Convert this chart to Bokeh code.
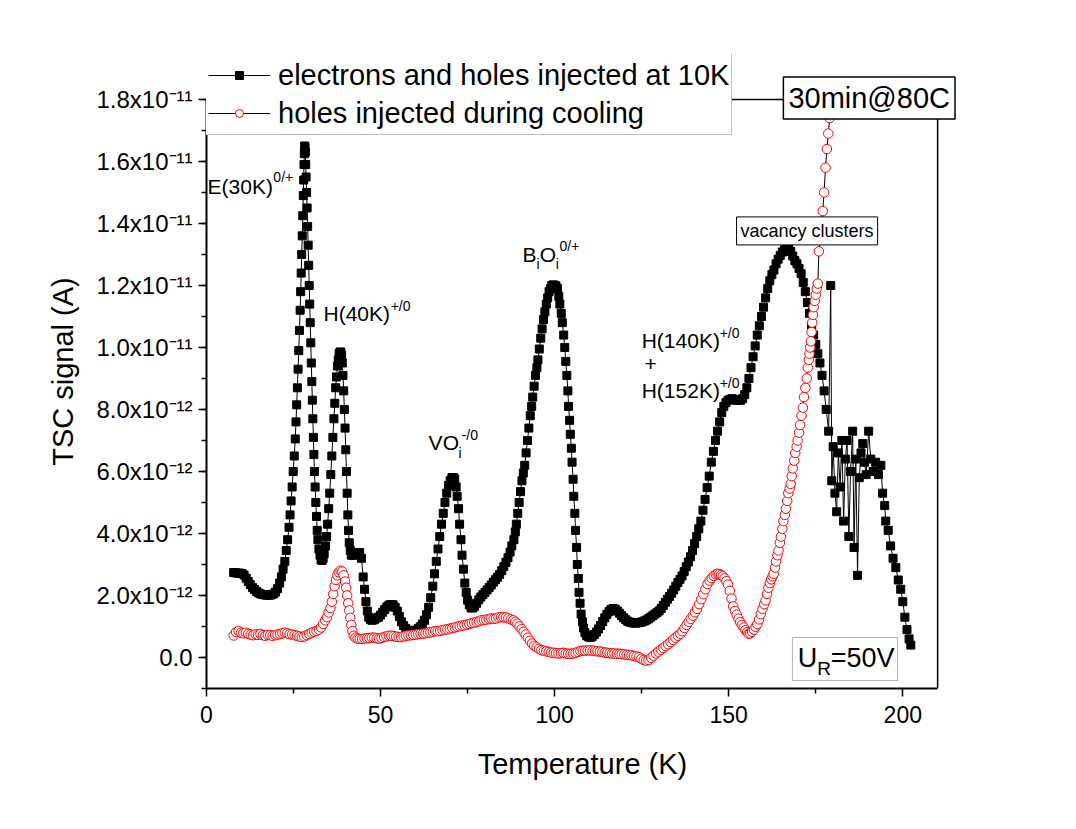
from bokeh.plotting import figure
from bokeh.models import (Label, Legend, LegendItem, FixedTicker,
                          CustomJSTickFormatter, BoxAnnotation)
from bokeh.embed import file_html
from bokeh.resources import INLINE

# ---------------- data (temperature in K, signal in units of 1e-12 A) -------------
T_eh = [7.8, 8.4, 9.0, 9.6, 10.2, 10.8, 11.4, 12.0, 12.6, 13.2, 13.8, 14.4, 15.0, 15.6,
        16.2, 16.8, 17.4, 18.0, 18.6, 19.2, 19.8, 20.4, 21.0, 21.5, 22.0, 22.5, 22.9, 23.3,
        23.7, 24.0, 24.3, 24.6, 24.9, 25.2, 25.5, 25.7, 25.9, 26.1, 26.3, 26.5, 26.7, 26.9,
        27.05, 27.2, 27.35, 27.5, 27.65, 27.8, 27.9, 28.0, 28.1, 28.2, 28.3, 28.4, 28.5, 28.6,
        28.75, 28.9, 29.05, 29.2, 29.35, 29.5, 29.65, 29.8, 29.95, 30.1, 30.25, 30.4, 30.55,
        30.7, 30.85, 31.0, 31.2, 31.4, 31.6, 31.8, 32.0, 32.3, 32.6, 32.9, 33.2, 33.5, 33.8,
        34.2, 34.5, 34.8, 35.1, 35.4, 35.7, 36.0, 36.3, 36.6, 36.85, 37.1, 37.35, 37.6, 37.85,
        38.1, 38.35, 38.6, 38.8, 39.0, 39.2, 39.4, 39.6, 39.8, 40.0, 40.2, 40.4, 40.6, 40.8,
        41.0, 41.3, 41.6, 42.2, 42.8, 43.4, 44.0, 44.5, 45.0, 45.4, 45.8, 46.2, 46.6, 47.1,
        47.6, 48.2, 48.8, 49.4, 50.0, 50.6, 51.2, 51.8, 52.4, 53.0, 53.6, 54.2, 54.8, 55.4,
        56.0, 56.6, 57.2, 57.8, 58.4, 59.0, 59.6, 60.2, 60.8, 61.4, 62.0, 62.6, 63.2, 63.8,
        64.4, 65.0, 65.5, 66.0, 66.5, 67.0, 67.5, 68.0, 68.5, 69.0, 69.5, 70.0, 70.5, 71.0,
        71.3, 71.7, 72.0, 72.4, 72.7, 73.1, 73.4, 73.8, 74.2, 74.6, 75.0, 75.5, 76.0, 76.5,
        77.0, 77.6, 78.2, 78.8, 79.4, 80.0, 80.6, 81.2, 81.8, 82.4, 83.0, 83.6, 84.2, 84.8,
        85.4, 86.0, 86.6, 87.2, 87.7, 88.3, 88.7, 89.0, 89.4, 89.8, 90.2, 90.6, 91.0, 91.4,
        91.8, 92.2, 92.6, 93.0, 93.4, 93.7, 94.1, 94.5, 94.9, 95.2, 95.6, 96.0, 96.4, 96.8,
        97.2, 97.6, 98.0, 98.4, 98.8, 99.2, 99.6, 100.0, 100.4, 100.8, 101.2, 101.5, 101.9,
        102.2, 102.6, 102.9, 103.2, 103.5, 103.8, 104.0, 104.3, 104.5, 104.8, 105.0, 105.3,
        105.5, 105.8, 106.0, 106.3, 106.5, 106.8, 107.0, 107.3, 107.6, 108.0, 108.3, 108.7,
        109.2, 109.8, 110.3, 110.8, 111.4, 112.0, 112.6, 113.2, 113.8, 114.4, 115.0, 115.6,
        116.2, 116.8, 117.4, 118.0, 118.6, 119.2, 119.8, 120.4, 121.0, 121.6, 122.2, 122.8,
        123.4, 124.0, 124.6, 125.2, 125.8, 126.4, 127.0, 127.6, 128.2, 128.8, 129.4, 130.0,
        130.6, 131.2, 131.8, 132.4, 133.0, 133.6, 134.2, 134.8, 135.4, 136.0, 136.6, 137.2,
        137.8, 138.4, 139.0, 139.6, 140.2, 140.8, 141.4, 142.0, 142.6, 143.2, 143.8, 144.4,
        145.0, 145.6, 146.2, 146.8, 147.4, 148.0, 148.6, 149.2, 149.8, 150.4, 151.0, 151.6,
        152.2, 152.8, 153.4, 154.0, 154.6, 155.2, 155.8, 156.4, 157.0, 157.6, 158.2, 158.8,
        159.4, 160.0, 160.6, 161.2, 161.8, 162.4, 163.0, 163.6, 164.2, 164.8, 165.4, 166.0,
        166.6, 167.2, 167.8, 168.4, 169.0, 169.6, 170.2, 170.8, 171.4, 172.0, 172.6, 173.2,
        173.8, 174.4, 175.0, 175.6, 176.2, 176.8, 177.4, 178.0, 178.7, 179.3, 179.6, 180.0,
        180.5, 181.0, 181.5, 182.0, 182.5, 183.0, 183.5, 184.0, 184.5, 185.0, 185.6, 186.0,
        186.5, 187.0, 187.5, 188.0, 188.5, 189.0, 189.5, 190.2, 190.8, 191.5, 192.2, 193.0,
        193.7, 194.2, 194.8, 195.1, 195.8, 196.5, 197.2, 198.0, 198.7, 199.4, 200.0, 200.6,
        201.2, 201.8, 202.3]
S_eh = [2.74, 2.73, 2.72, 2.72, 2.71, 2.66, 2.56, 2.45, 2.35, 2.26, 2.19, 2.13, 2.08, 2.05,
        2.03, 2.02, 2.01, 2.01, 2.02, 2.05, 2.11, 2.22, 2.4, 2.6, 2.85, 3.1, 3.45, 3.8,
        4.2, 4.6, 5.05, 5.5, 6.0, 6.5, 7.05, 7.6, 8.15, 8.7, 9.3, 9.9, 10.55, 11.2,
        11.8, 12.4, 13.0, 13.6, 14.25, 14.9, 15.4, 15.9, 16.25, 16.5, 16.45, 16.3, 15.9, 15.5,
        15.0, 14.5, 13.9, 13.3, 12.65, 12.0, 11.4, 10.8, 10.15, 9.5, 8.9, 8.3, 7.7,
        7.1, 6.55, 6.0, 5.5, 5.0, 4.55, 4.1, 3.8, 3.5, 3.3, 3.15, 3.13, 3.2, 3.35,
        3.6, 3.9, 4.3, 4.8, 5.3, 5.9, 6.5, 7.1, 7.7, 8.2, 8.7, 9.05, 9.4, 9.6,
        9.8, 9.85, 9.85, 9.75, 9.5, 9.1, 8.6, 8.0, 7.4, 6.7, 6.0, 5.3, 4.6, 4.1,
        3.7, 3.45, 3.3, 3.3, 3.32, 3.38, 3.38, 3.2, 2.6, 2.2, 1.8, 1.5, 1.3, 1.22,
        1.2, 1.22, 1.27, 1.3, 1.37, 1.46, 1.55, 1.63, 1.69, 1.71, 1.7, 1.62, 1.5, 1.32,
        1.15, 1.03, 0.94, 0.88, 0.85, 0.84, 0.85, 0.88, 0.93, 0.99, 1.08, 1.2, 1.38, 1.62,
        1.93, 2.3, 2.7, 3.1, 3.5, 3.9, 4.3, 4.65, 5.0, 5.3, 5.55, 5.7, 5.8, 5.8,
        5.75, 5.5, 5.2, 4.8, 4.3, 3.8, 3.3, 2.85, 2.4, 2.1, 1.85, 1.7, 1.6, 1.6,
        1.65, 1.75, 1.86, 1.95, 2.03, 2.1, 2.18, 2.26, 2.34, 2.43, 2.51, 2.59, 2.68, 2.8,
        2.93, 3.07, 3.22, 3.4, 3.6, 3.8, 4.05, 4.3, 4.65, 5.0, 5.35, 5.7, 5.95, 6.2,
        6.6, 7.0, 7.4, 7.8, 8.1, 8.4, 8.75, 9.1, 9.35, 9.6, 9.95, 10.3, 10.6, 10.9,
        11.15, 11.4, 11.6, 11.8, 11.9, 12.0, 12.02, 12.0, 11.98, 11.9, 11.65, 11.4, 11.1,
        10.8, 10.4, 10.0, 9.55, 9.1, 8.6, 8.1, 7.65, 7.2, 6.75, 6.3, 5.75,
        5.2, 4.65, 4.1, 3.55, 3.0, 2.55, 2.1, 1.75, 1.4, 1.15, 0.95, 0.8,
        0.7, 0.66, 0.65, 0.68, 0.74, 0.82, 0.92, 1.03, 1.16, 1.28, 1.39, 1.48,
        1.55, 1.58, 1.56, 1.5, 1.43, 1.35, 1.28, 1.22, 1.17, 1.14, 1.12, 1.11,
        1.11, 1.12, 1.13, 1.15, 1.18, 1.21, 1.25, 1.3, 1.35, 1.4, 1.45, 1.5,
        1.58, 1.68, 1.78, 1.88, 1.97, 2.07, 2.18, 2.3, 2.42, 2.52, 2.63, 2.77,
        2.93, 3.08, 3.25, 3.45, 3.67, 3.9, 4.15, 4.4, 4.75, 5.1, 5.48, 5.85,
        6.3, 6.65, 7.0, 7.3, 7.6, 7.9, 8.1, 8.22, 8.3, 8.33, 8.35, 8.32,
        8.3, 8.3, 8.3, 8.35, 8.48, 8.7, 9.0, 9.35, 9.7, 10.05, 10.4, 10.7,
        11.0, 11.3, 11.6, 11.9, 12.15, 12.35, 12.5, 12.7, 12.85, 12.97, 13.08, 13.15,
        13.2, 13.2, 13.1, 12.95, 12.8, 12.7, 12.55, 12.38, 12.1, 11.8, 11.45, 11.1,
        10.7, 10.4, 10.1, 9.8, 9.5, 9.1, 8.6, 8.0, 7.3, 12.0, 5.7, 6.8,
        5.3, 4.7, 6.6, 5.5, 7.0, 4.4, 6.4, 7.0, 3.9, 6.0, 7.3, 3.55,
        6.4, 2.65, 5.8, 6.6, 6.9, 6.3, 5.9, 7.3, 6.4, 6.0, 6.3, 5.9,
        6.2, 5.3, 4.9, 4.4, 4.1, 3.6, 3.2, 2.9, 2.5, 2.2, 1.8, 1.3,
        0.9, 0.6, 0.4]

T_h = [7.8, 8.5, 9.2, 9.9, 10.6, 11.3, 12.0, 12.7, 13.4, 14.1, 14.8, 15.5, 16.2, 16.9,
       17.6, 18.3, 19.0, 19.7, 20.4, 21.1, 21.8, 22.5, 23.2, 23.9, 24.6, 25.3, 26.0, 26.7,
       27.4, 28.1, 28.8, 29.5, 30.2, 30.9, 31.6, 32.3, 32.9, 33.5, 34.1, 34.6, 35.1, 35.6,
       36.0, 36.4, 36.8, 37.2, 37.6, 38.0, 38.5, 39.0, 39.4, 39.8, 40.1, 40.4, 40.7, 41.0,
       41.3, 41.6, 41.9, 42.3, 42.8, 43.4, 44.0, 44.7, 45.4, 46.1, 46.8, 47.5, 48.2, 48.9,
       49.6, 50.3, 51.0, 51.7, 52.4, 53.1, 53.8, 54.5, 55.2, 55.9, 56.6, 57.3, 58.0, 58.7,
       59.4, 60.1, 60.8, 61.5, 62.2, 62.9, 63.6, 64.3, 65.0, 65.7, 66.4, 67.1, 67.8, 68.5,
       69.2, 69.9, 70.6, 71.3, 72.0, 72.7, 73.4, 74.1, 74.8, 75.5, 76.2, 76.9, 77.6, 78.3,
       79.0, 79.7, 80.4, 81.1, 81.8, 82.5, 83.2, 83.9, 84.6, 85.3, 86.0, 86.7, 87.4, 88.1,
       88.7, 89.3, 89.9, 90.5, 91.1, 91.7, 92.3, 92.9, 93.5, 94.1, 94.8, 95.5, 96.2, 96.9,
       97.6, 98.3, 99.0, 99.7, 100.4, 101.1, 101.8, 102.5, 103.2, 103.9, 104.6, 105.3, 106.0,
       106.7, 107.4, 108.1, 108.8, 109.5, 110.2, 110.9, 111.6, 112.3, 113.0, 113.7, 114.4,
       115.1, 115.8, 116.5, 117.2, 117.9, 118.6, 119.3, 120.0, 120.7, 121.4, 122.1, 122.8,
       123.5, 124.2, 124.9, 125.6, 126.3, 127.0, 127.7, 128.4, 129.1, 129.8, 130.5, 131.2,
       131.9, 132.6, 133.3, 134.0, 134.7, 135.4, 136.1, 136.7, 137.3, 137.9, 138.5, 139.1,
       139.7, 140.3, 140.9, 141.5, 142.1, 142.7, 143.3, 143.9, 144.5, 145.1, 145.7, 146.3,
       146.8, 147.3, 147.8, 148.3, 148.8, 149.3, 149.8, 150.3, 150.8, 151.3, 151.8, 152.3,
       152.8, 153.3, 153.8, 154.3, 154.8, 155.3, 155.7, 156.2, 156.7, 157.2, 157.7, 158.2,
       158.7, 159.2, 159.7, 160.2, 160.6, 161.0, 161.4, 161.8, 162.2, 162.6, 162.9, 163.3,
       163.6, 164.0, 164.3, 164.7, 165.0, 165.4, 165.7, 166.1, 166.4, 166.8, 167.1, 167.5,
       167.8, 168.1, 168.4, 168.8, 169.1, 169.5, 169.8, 170.2, 170.5, 170.9, 171.3, 171.6,
       172.0, 172.4, 172.7, 173.0, 173.2, 173.4, 173.6, 173.8, 174.0, 174.2, 174.4, 174.7,
       175.0, 175.3, 175.6, 175.9, 176.3, 176.6, 177.0, 177.4, 177.8, 178.2, 178.6, 179.0,
       179.5]
S_h = [0.71, 0.82, 0.86, 0.8, 0.78, 0.8, 0.76, 0.74, 0.72, 0.75, 0.73, 0.76, 0.72, 0.7,
       0.73, 0.72, 0.7, 0.72, 0.74, 0.76, 0.78, 0.8, 0.78, 0.75, 0.74, 0.72, 0.7, 0.68,
       0.66, 0.68, 0.72, 0.76, 0.8, 0.83, 0.86, 0.9, 0.97, 1.08, 1.2, 1.3, 1.45, 1.6,
       1.8, 2.05, 2.3, 2.5, 2.65, 2.75, 2.8, 2.77, 2.65, 2.45, 2.25, 2.0, 1.75, 1.52,
       1.28, 1.05, 0.85, 0.7, 0.64, 0.61, 0.6, 0.6, 0.61, 0.62, 0.63, 0.64, 0.64, 0.62,
       0.61, 0.63, 0.66, 0.68, 0.7, 0.7, 0.69, 0.67, 0.66, 0.66, 0.68, 0.7, 0.71, 0.72,
       0.73, 0.74, 0.75, 0.76, 0.77, 0.78, 0.8, 0.81, 0.83, 0.85, 0.85, 0.86, 0.88, 0.9,
       0.91, 0.93, 0.95, 0.97, 0.99, 1.01, 1.03, 1.04, 1.06, 1.08, 1.11, 1.13, 1.15, 1.17,
       1.2, 1.21, 1.22, 1.24, 1.26, 1.25, 1.26, 1.29, 1.3, 1.3, 1.29, 1.26, 1.23, 1.2,
       1.15, 1.09, 1.0, 0.92, 0.83, 0.74, 0.64, 0.54, 0.45, 0.38, 0.33, 0.28, 0.24, 0.22,
       0.2, 0.18, 0.16, 0.15, 0.14, 0.13, 0.14, 0.15, 0.13, 0.12, 0.12, 0.13, 0.15,
       0.18, 0.21, 0.22, 0.22, 0.23, 0.23, 0.22, 0.21, 0.2, 0.19, 0.18, 0.16,
       0.15, 0.14, 0.13, 0.13, 0.12, 0.12, 0.11, 0.1, 0.09, 0.08, 0.07, 0.05,
       0.03, 0.01, -0.04, -0.08, -0.1, -0.08, -0.01, 0.06, 0.13, 0.19, 0.25, 0.31,
       0.37, 0.43, 0.5, 0.57, 0.64, 0.7, 0.76, 0.85, 0.95, 1.05, 1.15, 1.25,
       1.35, 1.46, 1.57, 1.72, 1.88, 2.04, 2.2, 2.37, 2.48, 2.56, 2.63, 2.68,
       2.7, 2.69, 2.66, 2.62, 2.55, 2.46, 2.35, 2.15, 1.9, 1.65, 1.5, 1.38,
       1.25, 1.14, 1.05, 0.97, 0.88, 0.82, 0.77, 0.78, 0.83, 0.9, 0.99, 1.08,
       1.23, 1.4, 1.57, 1.72, 1.84, 2.05, 2.25, 2.4, 2.52, 2.62, 2.7, 2.9,
       3.1, 3.3, 3.45, 3.7, 3.9, 4.15, 4.4, 4.6, 4.8, 5.05, 5.3, 5.45,
       5.6, 5.85, 6.1, 6.35, 6.6, 6.8, 7.0, 7.25, 7.5, 7.8, 8.06, 8.4,
       8.7, 9.0, 9.35, 9.6, 9.8, 10.0, 10.2, 10.5, 10.8, 11.05, 11.3, 11.5,
       11.7, 11.9, 12.06, 13.1, 13.5, 13.9, 14.4, 15.0, 15.8, 16.4, 16.9, 17.4,
       18.2]

SERIES_NAMES = ["electrons and holes injected at 10K", "holes injected during cooling"]
X_TICKS = [0, 50, 100, 150, 200]
X_MINOR = [25, 75, 125, 175]
X_MAX = 210
UNIT = 1e-12
Y_MIN = -1 * UNIT
Y_MAX = 18 * UNIT
Y_TICKS = [i * 2 * UNIT for i in range(10)]
Y_MINOR = [i * UNIT for i in range(-1, 19)]

y_eh = [v * UNIT for v in S_eh]
y_h = [v * UNIT for v in S_h]

FONT = "Liberation Sans"

# the frame is extended above and right so that the legend and the boxed note
# (which stick out of the axes box in the original) are not clipped
p = figure(width=1076, height=829, x_range=(0, 216), y_range=(Y_MIN, 19.45 * UNIT),
           output_backend="svg", toolbar_location=None,
           min_border_left=206, min_border_right=118, min_border_top=54, min_border_bottom=141)
p.background_fill_color = "white"
p.border_fill_color = "white"
p.grid.visible = False
p.outline_line_color = None

# axes
for ax in (p.xaxis[0], p.yaxis[0]):
    ax.axis_line_width = 2
    ax.axis_line_color = "black"
    ax.major_tick_line_width = 1.5
    ax.minor_tick_line_width = 1.5
    ax.major_tick_in = 0
    ax.major_tick_out = 8
    ax.minor_tick_in = 0
    ax.minor_tick_out = 5
    ax.major_label_text_font = FONT
    ax.major_label_text_color = "black"
    ax.axis_label_text_font = FONT
    ax.axis_label_text_font_size = "29px"
    ax.axis_label_text_font_style = "normal"
    ax.axis_label_text_color = "black"

p.xaxis.major_label_text_font_size = "23px"
p.yaxis.major_label_text_font_size = "24px"
p.xaxis.bounds = (0, X_MAX)
p.yaxis.bounds = (Y_MIN, Y_MAX)
p.xaxis.ticker = FixedTicker(ticks=X_TICKS, minor_ticks=X_MINOR)
p.yaxis.ticker = FixedTicker(ticks=Y_TICKS, minor_ticks=Y_MINOR)
p.xaxis.axis_label = "Temperature (K)"
p.yaxis.axis_label = "TSC signal (A)"
p.xaxis.major_label_standoff = 9
p.xaxis.axis_label_standoff = 22
p.yaxis.major_label_standoff = 6
p.yaxis.axis_label_standoff = 14
p.yaxis.formatter = CustomJSTickFormatter(code="""
    const e = Math.round(tick * 1e13) / 10;
    if (Math.abs(e) < 1e-6) { return "0.0"; }
    if (e < 10) { return e.toFixed(1) + "x10\u207b\u00b9\u00b2"; }
    return (e / 10).toFixed(1) + "x10\u207b\u00b9\u00b9";
""")

# top and right edges of the axes box
p.segment(x0=[0, X_MAX], y0=[Y_MAX, Y_MIN], x1=[X_MAX, X_MAX], y1=[Y_MAX, Y_MAX],
          line_color="black", line_width=1.5)

# series
l1 = p.line(T_eh, y_eh, line_color="black", line_width=1)
s1 = p.scatter(T_eh, y_eh, marker="square", size=8, fill_color="black", line_color="black")
l2 = p.line(T_h, y_h, line_color="black", line_width=1)
s2 = p.scatter(T_h, y_h, marker="circle", size=9.5, fill_color="white", line_color="#ff0000",
               line_width=1)

legend = Legend(items=[LegendItem(label=SERIES_NAMES[0], renderers=[l1, s1]),
                       LegendItem(label=SERIES_NAMES[1], renderers=[l2, s2])],
                location=(-1, 553), margin=0, padding=2, spacing=0,
                label_height=38, glyph_height=20, glyph_width=62, label_standoff=8,
                label_text_font=FONT, label_text_font_size="29px", label_text_color="black",
                border_line_color="#808080", border_line_width=1.5,
                background_fill_color="white", background_fill_alpha=1.0)
p.add_layout(legend)


def lab(x, y, text, size, **kw):
    p.add_layout(Label(x=x, y=y * UNIT, text=text, text_font=FONT, text_font_size=size,
                       text_baseline="middle", text_align="left", text_color="black", **kw))


BASE = "21px"
SMALL = "14px"
lab(0.3, 15.2, "E(30K)", BASE)
lab(19.2, 15.5, "0/+", SMALL)
lab(33.6, 11.1, "H(40K)", BASE)
lab(52.9, 11.35, "+/0", SMALL)
lab(63.8, 6.94, "VO", BASE)
lab(72.4, 6.61, "i", SMALL)
lab(73.3, 7.19, "-/0", SMALL)
lab(90.8, 13.0, "B", BASE)
lab(94.8, 12.68, "i", SMALL)
lab(95.7, 13.0, "O", BASE)
lab(100.3, 12.68, "i", SMALL)
lab(101.4, 13.26, "0/+", SMALL)
lab(125.0, 10.23, "H(140K)", BASE)
lab(147.4, 10.48, "+/0", SMALL)
lab(125.8, 9.48, "+", BASE)
lab(125.0, 8.61, "H(152K)", BASE)
lab(147.4, 8.87, "+/0", SMALL)

lab(152.25, 13.76, "vacancy clusters", "18px", padding=4, border_line_color="black",
    border_line_width=1, background_fill_color="white")
lab(165.7, 18.05, "30min@80C", "29px", padding=5, border_line_color="black",
    border_line_width=1.5, background_fill_color="white")

p.add_layout(BoxAnnotation(left=168.3, right=198.5, top=0.645 * UNIT, bottom=-0.742 * UNIT,
                           fill_color="white", fill_alpha=1.0, line_color="black",
                           line_width=1))
lab(169.8, -0.03, "U", "27px")
lab(175.4, -0.36, "R", "19px")
lab(179.3, -0.03, "=50V", "27px")

open("out.html", "w").write(file_html(p, INLINE))
